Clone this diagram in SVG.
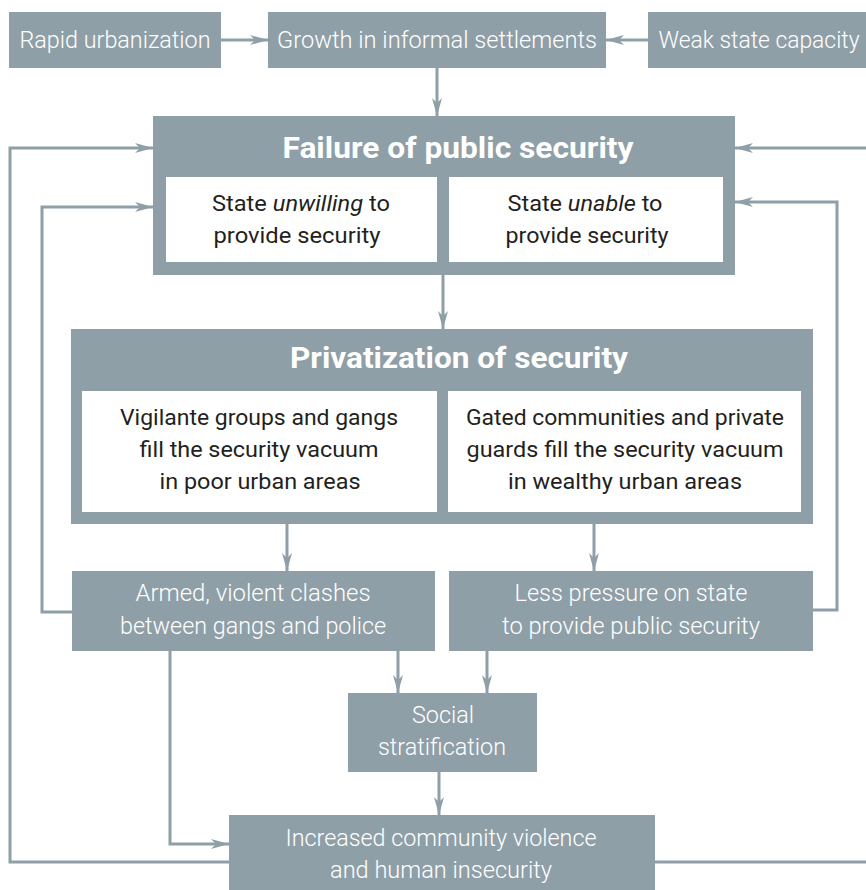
<svg xmlns="http://www.w3.org/2000/svg" width="866" height="890" viewBox="0 0 866 890">
<defs>
<style>
.box{fill:#8f9fa8}
.inner{fill:#ffffff}
.wt{fill:#ffffff;font-family:Roboto,"Liberation Sans",sans-serif;font-weight:300;font-size:23px;text-anchor:middle}
.dt{fill:#231f20;font-family:Roboto,"Liberation Sans",sans-serif;font-weight:400;font-size:22px;text-anchor:middle}
.tt{fill:#ffffff;font-family:Roboto,"Liberation Sans",sans-serif;font-weight:700;font-size:30px;text-anchor:middle}
.c{fill:none;stroke:#8f9fa8;stroke-width:3}
</style>
<marker id="ah" markerUnits="userSpaceOnUse" markerWidth="18" markerHeight="10" refX="18" refY="5" orient="auto">
<path d="M0,0 L18,5 L0,10 L5,5 z" fill="#8f9fa8"/>
</marker>
</defs>
<rect width="866" height="890" fill="#ffffff"/>
<g id="connectors">
<path class="c" d="M221,40 H268" marker-end="url(#ah)"/>
<path class="c" d="M648,40 H606" marker-end="url(#ah)"/>
<path class="c" d="M437,68 V116" marker-end="url(#ah)"/>
<path class="c" d="M443,275 V329" marker-end="url(#ah)"/>
<path class="c" d="M287,524 V571" marker-end="url(#ah)"/>
<path class="c" d="M594,524 V571" marker-end="url(#ah)"/>
<path class="c" d="M398,651 V693" marker-end="url(#ah)"/>
<path class="c" d="M487,651 V693" marker-end="url(#ah)"/>
<path class="c" d="M439,772 V815" marker-end="url(#ah)"/>
<path class="c" d="M170,651 V844 H229" marker-end="url(#ah)"/>
<path class="c" d="M72,612 H42 V207 H153" marker-end="url(#ah)"/>
<path class="c" d="M813,610 H837 V202 H735" marker-end="url(#ah)"/>
<path class="c" d="M229,862 H10 V148 H153" marker-end="url(#ah)"/>
<path class="c" d="M655,862 H880 V148 H735" marker-end="url(#ah)"/>
</g>
<g id="rapid">
<rect class="box" x="9" y="12" width="212" height="56"/>
<text class="wt" x="115" y="48" textLength="191" lengthAdjust="spacingAndGlyphs">Rapid urbanization</text>
</g>
<g id="growth">
<rect class="box" x="268" y="12" width="338" height="56"/>
<text class="wt" x="437" y="48" textLength="320" lengthAdjust="spacingAndGlyphs">Growth in informal settlements</text>
</g>
<g id="weak">
<rect class="box" x="648" y="12" width="220" height="56"/>
<text class="wt" x="759" y="48" textLength="201" lengthAdjust="spacingAndGlyphs">Weak state capacity</text>
</g>
<g id="failure">
<rect class="box" x="153" y="116" width="582" height="159"/>
<text class="tt" x="458" y="158" textLength="351" lengthAdjust="spacingAndGlyphs">Failure of public security</text>
<rect class="inner" x="166" y="177" width="271" height="85"/>
<text class="dt" x="301" y="211" textLength="178" lengthAdjust="spacingAndGlyphs">State <tspan font-style="italic">unwilling</tspan> to</text>
<text class="dt" x="297" y="243" textLength="167" lengthAdjust="spacingAndGlyphs">provide security</text>
<rect class="inner" x="449" y="177" width="274" height="85"/>
<text class="dt" x="585" y="211" textLength="155" lengthAdjust="spacingAndGlyphs">State <tspan font-style="italic">unable</tspan> to</text>
<text class="dt" x="587" y="243" textLength="163" lengthAdjust="spacingAndGlyphs">provide security</text>
</g>
<g id="privatization">
<rect class="box" x="71" y="329" width="742" height="195"/>
<text class="tt" x="459" y="368" textLength="338" lengthAdjust="spacingAndGlyphs">Privatization of security</text>
<rect class="inner" x="82" y="391" width="355" height="121"/>
<text class="dt" x="259" y="425" textLength="278" lengthAdjust="spacingAndGlyphs">Vigilante groups and gangs</text>
<text class="dt" x="259" y="457" textLength="239" lengthAdjust="spacingAndGlyphs">fill the security vacuum</text>
<text class="dt" x="260" y="489" textLength="201" lengthAdjust="spacingAndGlyphs">in poor urban areas</text>
<rect class="inner" x="448" y="391" width="353" height="121"/>
<text class="dt" x="625" y="425" textLength="318" lengthAdjust="spacingAndGlyphs">Gated communities and private</text>
<text class="dt" x="625" y="457" textLength="317" lengthAdjust="spacingAndGlyphs">guards fill the security vacuum</text>
<text class="dt" x="625" y="489" textLength="234" lengthAdjust="spacingAndGlyphs">in wealthy urban areas</text>
</g>
<g id="armed">
<rect class="box" x="72" y="571" width="363" height="80"/>
<text class="wt" x="253" y="601" textLength="235" lengthAdjust="spacingAndGlyphs">Armed, violent clashes</text>
<text class="wt" x="253" y="634" textLength="266" lengthAdjust="spacingAndGlyphs">between gangs and police</text>
</g>
<g id="lesspressure">
<rect class="box" x="449" y="571" width="364" height="80"/>
<text class="wt" x="631" y="601" textLength="233" lengthAdjust="spacingAndGlyphs">Less pressure on state</text>
<text class="wt" x="631" y="634" textLength="258" lengthAdjust="spacingAndGlyphs">to provide public security</text>
</g>
<g id="social">
<rect class="box" x="348" y="693" width="189" height="79"/>
<text class="wt" x="443" y="723" textLength="62" lengthAdjust="spacingAndGlyphs">Social</text>
<text class="wt" x="442" y="755" textLength="128" lengthAdjust="spacingAndGlyphs">stratification</text>
</g>
<g id="increased">
<rect class="box" x="229" y="815" width="426" height="76"/>
<text class="wt" x="441" y="846" textLength="311" lengthAdjust="spacingAndGlyphs">Increased community violence</text>
<text class="wt" x="441" y="878" textLength="222" lengthAdjust="spacingAndGlyphs">and human insecurity</text>
</g>
</svg>
